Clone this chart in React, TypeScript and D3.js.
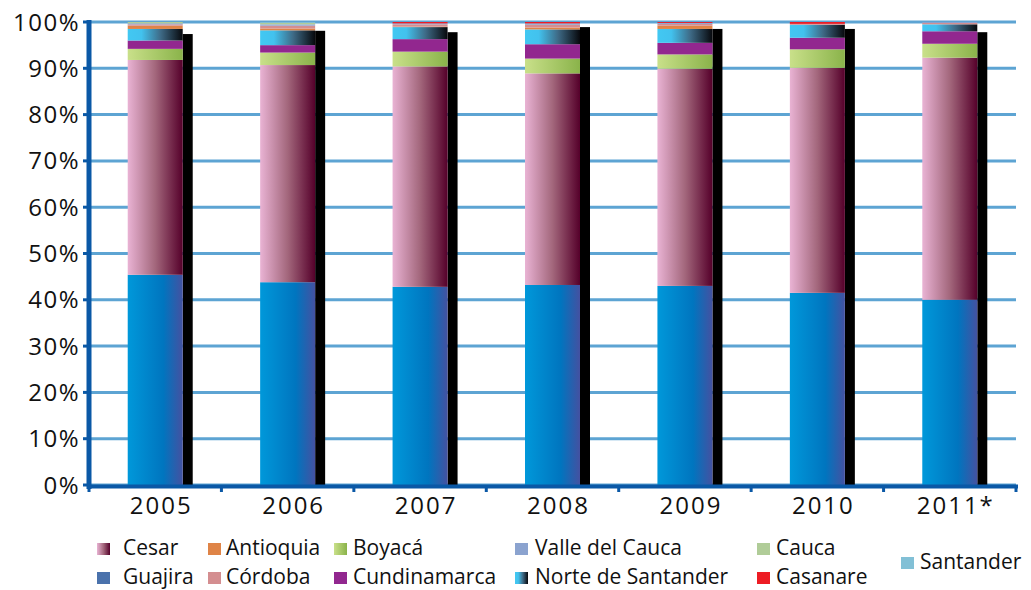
import React from 'react';
import * as d3 from 'd3';

// shares of coal production by department (percent)
const years = ['2005', '2006', '2007', '2008', '2009', '2010', '2011*'];
const guajira = [45.4, 43.8, 42.8, 43.2, 43.0, 41.5, 40.0];
const cesar = [46.4, 46.9, 47.6, 45.7, 46.9, 48.6, 52.3];
const boyaca = [2.4, 2.7, 3.2, 3.2, 3.1, 4.0, 3.0];
const cundinamarca = [1.8, 1.6, 2.7, 3.1, 2.5, 2.5, 2.7];
const norte = [2.5, 3.2, 2.6, 3.2, 3.0, 2.8, 1.5];
const antioquia = [0.7, 0.4, 0.1, 0.4, 0.7, 0.0, 0.0];
const cordoba = [0.3, 0.6, 0.5, 0.6, 0.4, 0.2, 0.3];
const valle = [0.2, 0.3, 0.2, 0.3, 0.2, 0.0, 0.2];
const cauca = [0.3, 0.3, 0.0, 0.0, 0.0, 0.0, 0.0];
const casanare = [0.0, 0.0, 0.3, 0.3, 0.2, 0.4, 0.0];
const santander = [0.0, 0.2, 0.0, 0.0, 0.0, 0.0, 0.0];
// top of the dark depth band behind each column (percent)
const shadowTop = [97.4, 98.1, 97.8, 98.9, 98.5, 98.5, 97.8];
const yTicks = [0, 10, 20, 30, 40, 50, 60, 70, 80, 90, 100];

const series = [
  { key: 'Guajira', values: guajira, fill: 'url(#gGuajira)', swatch: '#4A72AC' },
  { key: 'Cesar', values: cesar, fill: 'url(#gCesar)' },
  { key: 'Boyacá', values: boyaca, fill: 'url(#gBoyaca)' },
  { key: 'Cundinamarca', values: cundinamarca, fill: '#92278F' },
  { key: 'Norte de Santander', values: norte, fill: 'url(#gNorte)' },
  { key: 'Antioquia', values: antioquia, fill: '#DF8447' },
  { key: 'Córdoba', values: cordoba, fill: '#D48E90' },
  { key: 'Valle del Cauca', values: valle, fill: '#8BA3CF' },
  { key: 'Cauca', values: cauca, fill: '#B0CC98' },
  { key: 'Casanare', values: casanare, fill: '#ED1C24' },
  { key: 'Santander', values: santander, fill: '#82C0D6' },
];

const legendRows = [
  ['Cesar', 'Antioquia', 'Boyacá', 'Valle del Cauca', 'Cauca'],
  ['Guajira', 'Córdoba', 'Cundinamarca', 'Norte de Santander', 'Casanare'],
];
const legendCols = [97, 208, 334, 515, 757];
const legendText = [123, 226, 353, 535, 776];

const W = 1031;
const H = 590;
const FONT = '"Open Sans", "Liberation Sans", sans-serif';

const App = () => {
  const x = d3.scaleBand<string>().domain(years).range([89, 1016]);
  const y = d3.scaleLinear().domain([0, 100]).range([485, 22]);
  const barW = 55;
  const depth = 10;

  const rows = years.map((yr, i) => {
    const r: Record<string, number | string> = { year: yr };
    series.forEach((s) => (r[s.key] = s.values[i]));
    return r;
  });
  const stacked = d3.stack<any>().keys(series.map((s) => s.key))(rows);
  const fillOf = (k: string) => series.find((s) => s.key === k)!.fill;
  const swatchOf = (k: string) => {
    const s = series.find((s) => s.key === k)!;
    return s.swatch || s.fill;
  };

  const barX = (yr: string) => (x(yr) || 0) + (x.bandwidth() - barW) / 2;

  return (
    <svg width={W} height={H} style={{ position: 'absolute', left: 0, top: 0, background: '#fff' }}>
      <defs>
        <linearGradient id="gGuajira" x1="0" x2="1" y1="0" y2="0">
          <stop offset="0" stopColor="#0098DA" />
          <stop offset="0.65" stopColor="#0075BF" />
          <stop offset="1" stopColor="#4451A1" />
        </linearGradient>
        <linearGradient id="gCesar" x1="0" x2="1" y1="0" y2="0">
          <stop offset="0" stopColor="#E9B3D4" />
          <stop offset="0.5" stopColor="#A3677C" />
          <stop offset="1" stopColor="#55002A" />
        </linearGradient>
        <linearGradient id="gBoyaca" x1="0" x2="1" y1="0" y2="0">
          <stop offset="0" stopColor="#C9E08A" />
          <stop offset="1" stopColor="#8AB34A" />
        </linearGradient>
        <linearGradient id="gNorte" x1="0" x2="1" y1="0" y2="0">
          <stop offset="0" stopColor="#42C8F2" />
          <stop offset="0.25" stopColor="#42C2EE" />
          <stop offset="0.6" stopColor="#3E6A86" />
          <stop offset="1" stopColor="#07080C" />
        </linearGradient>
      </defs>

      {/* gridlines */}
      {yTicks.map((t) => (
        <line key={t} x1={89} x2={1016} y1={y(t)} y2={y(t)} stroke="#5DA4D3" strokeWidth={3} />
      ))}

      {/* depth bands */}
      {years.map((yr, i) => (
        <rect
          key={yr}
          x={barX(yr) + barW}
          y={y(shadowTop[i])}
          width={depth}
          height={y(0) - y(shadowTop[i])}
          fill="#000"
        />
      ))}

      {/* stacked columns */}
      {stacked.map((layer) => (
        <g key={layer.key} fill={fillOf(layer.key)}>
          {layer.map((d, i) =>
            d[1] - d[0] > 0 ? (
              <rect
                key={i}
                x={barX(years[i])}
                y={y(d[1])}
                width={barW}
                height={y(d[0]) - y(d[1])}
              />
            ) : null
          )}
        </g>
      ))}

      {/* axes */}
      {yTicks.map((t) => (
        <line key={t} x1={83} x2={89} y1={y(t)} y2={y(t)} stroke="#0A58A6" strokeWidth={3} />
      ))}
      {years.map((yr) => (
        <line key={yr} x1={x(yr)} x2={x(yr)} y1={486} y2={492} stroke="#0A58A6" strokeWidth={3} />
      ))}
      <line x1={1016} x2={1016} y1={486} y2={492} stroke="#0A58A6" strokeWidth={3} />
      <line x1={89} x2={89} y1={20} y2={489} stroke="#0A58A6" strokeWidth={5} />
      <line x1={87} x2={1018} y1={486.5} y2={486.5} stroke="#0A58A6" strokeWidth={4} />

      {/* tick labels */}
      {yTicks.map((t) => (
        <text
          key={t}
          x={80}
          y={y(t) + 8.5}
          textAnchor="end"
          fontFamily={FONT}
          fontSize={24}
          letterSpacing={1.5}
          fill="#111"
        >
          {t}%
        </text>
      ))}
      {years.map((yr) => (
        <text
          key={yr}
          x={barX(yr) + (barW + depth) / 2 + 1}
          y={514}
          textAnchor="middle"
          fontFamily={FONT}
          fontSize={24}
          letterSpacing={2}
          fill="#111"
        >
          {yr}
        </text>
      ))}

      {/* legend */}
      {legendRows.map((row, ri) =>
        row.map((name, ci) => (
          <g key={name}>
            <rect
              x={legendCols[ci]}
              y={543 + ri * 29}
              width={13}
              height={12}
              fill={swatchOf(name)}
            />
            <text
              x={legendText[ci]}
              y={555 + ri * 29}
              fontFamily={FONT}
              fontSize={21}
              fill="#111"
            >
              {name}
            </text>
          </g>
        ))
      )}
      <rect x={901} y={557} width={13} height={12} fill={swatchOf('Santander')} />
      <text x={920} y={569} fontFamily={FONT} fontSize={21} fill="#111">
        Santander
      </text>
    </svg>
  );
};

export default App;
